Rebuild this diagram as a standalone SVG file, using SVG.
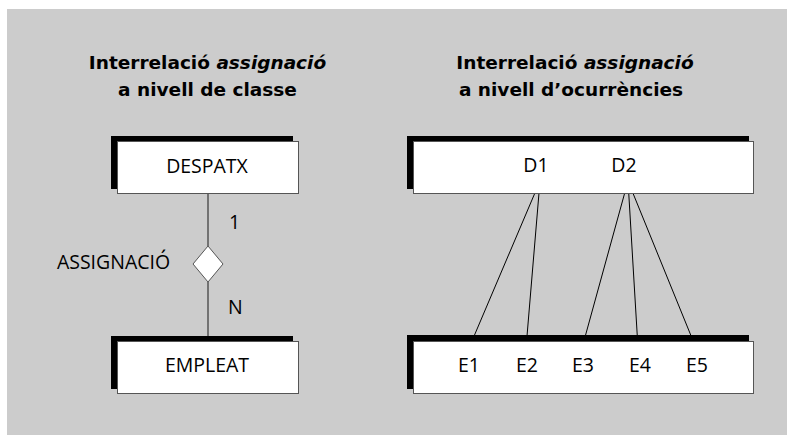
<svg xmlns="http://www.w3.org/2000/svg" width="787" height="435" viewBox="0 0 787 435">
<style>
.t{font-family:"Open Sans","Noto Sans",sans-serif;font-size:19.5px;fill:#000}
.h{font-family:"DejaVu Sans","Open Sans",sans-serif;font-size:18.5px;font-weight:bold;fill:#000;text-anchor:middle}
.c{text-anchor:middle}
.sh{fill:#000}
.bx{fill:#fff;stroke:#555;stroke-width:1}
.ln{stroke:#000;stroke-width:1;fill:none}
.lg{stroke:#555;stroke-width:1.5;fill:none}
</style>
<rect x="7" y="9" width="780" height="426" fill="#cccccc"/>
<g id="titles">
<text class="h" x="207.5" y="69">Interrelació <tspan font-style="italic">assignació</tspan></text>
<text class="h" x="207.5" y="96">a nivell de classe</text>
<text class="h" x="575" y="69">Interrelació <tspan font-style="italic">assignació</tspan></text>
<text class="h" x="571" y="96">a nivell d’ocurrències</text>
</g>
<g id="connectors">
<line class="lg" x1="208" y1="193" x2="208" y2="246"/>
<line class="lg" x1="208" y1="282" x2="208" y2="336"/>
<line class="ln" x1="540" y1="181" x2="469" y2="348"/>
<line class="ln" x1="540" y1="181" x2="526" y2="348"/>
<line class="ln" x1="628" y1="181" x2="582" y2="348"/>
<line class="ln" x1="628" y1="181" x2="638" y2="348"/>
<line class="ln" x1="628" y1="181" x2="696" y2="348"/>
</g>
<g id="despatx">
<rect class="sh" x="111" y="136" width="182" height="53"/>
<rect class="bx" x="117.5" y="141.5" width="181" height="52"/>
<text class="t c" x="207" y="173">DESPATX</text>
</g>
<g id="assignacio">
<polygon points="208,246 223,264 208,282 193,264" fill="#fff" stroke="#555" stroke-width="1"/>
<text class="t c" x="113.5" y="269">ASSIGNACIÓ</text>
<text class="t" x="229" y="229">1</text>
<text class="t" x="228" y="314">N</text>
</g>
<g id="empleat">
<rect class="sh" x="111" y="336" width="182" height="53"/>
<rect class="bx" x="117.5" y="341.5" width="181" height="52"/>
<text class="t c" x="207" y="372">EMPLEAT</text>
</g>
<g id="despatxos">
<rect class="sh" x="407" y="136" width="342" height="53"/>
<rect class="bx" x="413.5" y="141.5" width="340" height="52"/>
<text class="t c" x="536" y="172">D1</text>
<text class="t c" x="624" y="172">D2</text>
</g>
<g id="empleats">
<rect class="sh" x="407" y="335" width="342" height="54"/>
<rect class="bx" x="413.5" y="341.5" width="340" height="52"/>
<text class="t c" x="469" y="372">E1</text>
<text class="t c" x="527" y="372">E2</text>
<text class="t c" x="583" y="372">E3</text>
<text class="t c" x="640" y="372">E4</text>
<text class="t c" x="697" y="372">E5</text>
</g>
</svg>
